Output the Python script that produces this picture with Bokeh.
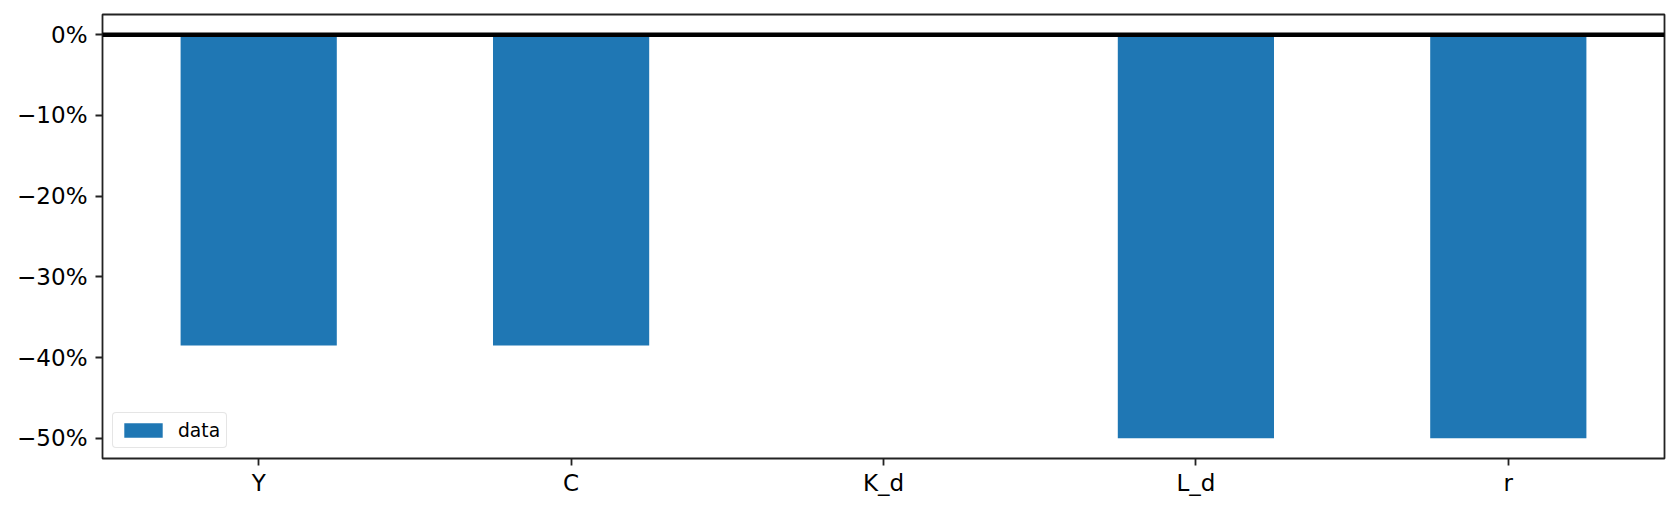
from bokeh.plotting import figure
from bokeh.models import ColumnDataSource, FactorRange, Range1d, FixedTicker, CustomJSTickFormatter, Span, Legend, LegendItem
from bokeh.embed import file_html
from bokeh.resources import INLINE

categories = ["Y", "C", "K_d", "L_d", "r"]
values = [-38.5, -38.5, 0.0, -50.0, -50.0]
y_ticks = [-50, -40, -30, -20, -10, 0]
series_name = "data"

FONT = "DejaVu Sans"

src = ColumnDataSource(dict(cat=categories, val=values))

p = figure(width=1670, height=503, output_backend="svg", toolbar_location=None,
           x_range=FactorRange(factors=categories, range_padding=0),
           y_range=Range1d(-52.5, 2.5),
           min_border_left=102, min_border_right=6, min_border_top=14, min_border_bottom=45)

r = p.vbar(x="cat", top="val", bottom=0, width=0.5, source=src,
           fill_color="#1f77b4", line_color=None)

p.add_layout(Span(location=0, dimension="width", line_color="black", line_width=4.5))

p.xgrid.visible = False
p.ygrid.visible = False
p.outline_line_color = "#222222"
p.outline_line_width = 1.8
p.outline_line_alpha = 1.0
p.background_fill_color = "white"
p.border_fill_color = "white"

for ax in (p.xaxis[0], p.yaxis[0]):
    ax.axis_line_color = None
    ax.major_tick_line_color = "#222222"
    ax.major_tick_line_width = 1.8
    ax.major_tick_out = 7
    ax.major_tick_in = 0
    ax.minor_tick_line_color = None
    ax.major_label_text_font = FONT
    ax.major_label_text_font_size = "23px"
    ax.major_label_text_color = "black"
    ax.major_label_standoff = 8

p.xaxis[0].major_label_standoff = 4

p.yaxis[0].ticker = FixedTicker(ticks=y_ticks)
p.yaxis[0].formatter = CustomJSTickFormatter(code="""
    const v = Math.round(tick);
    return (v < 0 ? '\\u2212' : '') + Math.abs(v).toFixed(0) + '%';
""")

legend = Legend(items=[LegendItem(label=series_name, renderers=[r])],
                location="bottom_left", margin=10,
                label_text_font=FONT, label_text_font_size="18.7px",
                label_text_color="black",
                glyph_width=48, glyph_height=18, label_height=22, label_standoff=11,
                padding=6, spacing=0,
                border_line_color="#cccccc", border_line_width=1.5,
                background_fill_alpha=0.8)
legend.border_radius = 4
p.add_layout(legend)

open("out.html", "w").write(file_html(p, INLINE))
